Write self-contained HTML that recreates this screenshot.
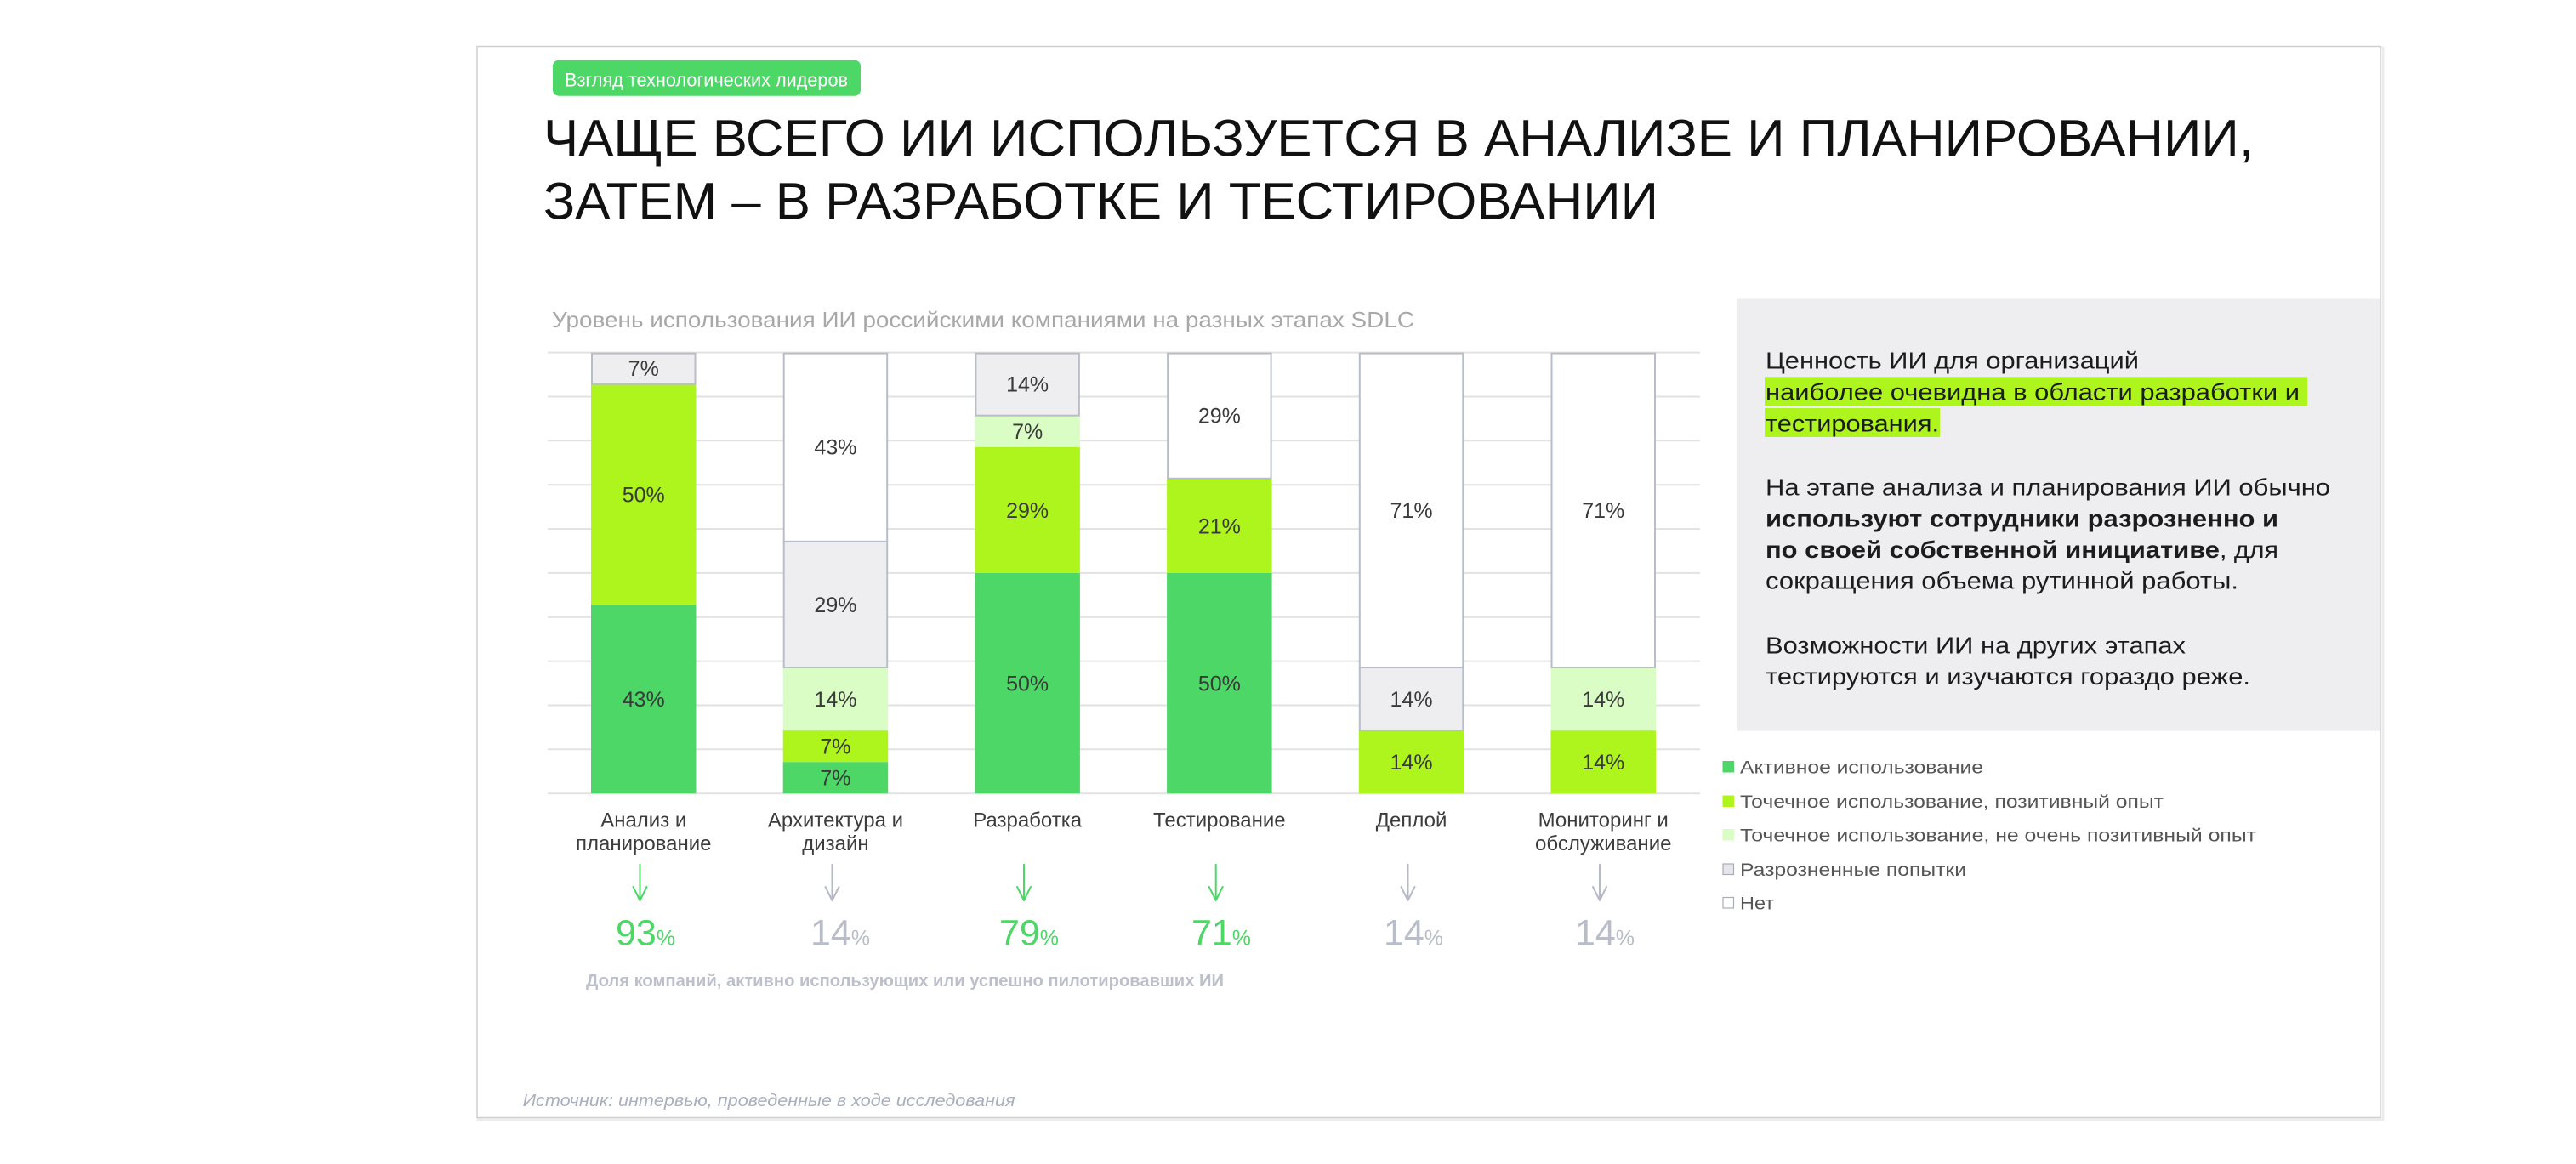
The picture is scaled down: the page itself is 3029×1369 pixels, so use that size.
<!DOCTYPE html>
<html lang="ru">
<head>
<meta charset="utf-8">
<style>
  html,body{margin:0;padding:0;background:#fff;}
  body{width:3029px;height:1369px;overflow:hidden;}
  svg{display:block;}
  text{font-family:"Liberation Sans","Noto Sans CJK JP",Arial,sans-serif;}
</style>
</head>
<body>
<svg width="3029" height="1369" viewBox="0 0 3029 1369" xmlns="http://www.w3.org/2000/svg">
  <rect x="0" y="0" width="3029" height="1369" fill="#ffffff"/>

  <!-- frame -->
  <rect x="562" y="56" width="2240" height="1261" fill="none" stroke="#ececec" stroke-width="3"/>
  <rect x="561" y="54.5" width="2238" height="1260" fill="#ffffff" stroke="#cfcfcf" stroke-width="1.5"/>

  <!-- tag -->
  <rect x="650" y="70.7" width="362" height="42" rx="7" ry="7" fill="#4cd767"/>
  <text x="664" y="101.7" font-size="22" fill="#ffffff" textLength="333" lengthAdjust="spacingAndGlyphs">Взгляд технологических лидеров</text>

  <!-- title -->
  <text x="639" y="183.5" font-size="61" fill="#111111" textLength="2011" lengthAdjust="spacingAndGlyphs">ЧАЩЕ ВСЕГО ИИ ИСПОЛЬЗУЕТСЯ В АНАЛИЗЕ И ПЛАНИРОВАНИИ,</text>
  <text x="639" y="257.3" font-size="61" fill="#111111" textLength="1311" lengthAdjust="spacingAndGlyphs">ЗАТЕМ – В РАЗРАБОТКЕ И ТЕСТИРОВАНИИ</text>

  <!-- chart subtitle -->
  <text x="649" y="385.2" font-size="26" fill="#a8a8a8" textLength="1014" lengthAdjust="spacingAndGlyphs">Уровень использования ИИ российскими компаниями на разных этапах SDLC</text>

  <!-- gridlines -->
  <g stroke="#e2e2e2" stroke-width="2">
    <line x1="644" y1="414.6" x2="1999" y2="414.6"/>
    <line x1="644" y1="466.5" x2="1999" y2="466.5"/>
    <line x1="644" y1="518.3" x2="1999" y2="518.3"/>
    <line x1="644" y1="570.2" x2="1999" y2="570.2"/>
    <line x1="644" y1="622.0" x2="1999" y2="622.0"/>
    <line x1="644" y1="673.9" x2="1999" y2="673.9"/>
    <line x1="644" y1="725.8" x2="1999" y2="725.8"/>
    <line x1="644" y1="777.6" x2="1999" y2="777.6"/>
    <line x1="644" y1="829.5" x2="1999" y2="829.5"/>
    <line x1="644" y1="881.3" x2="1999" y2="881.3"/>
    <line x1="644" y1="933.2" x2="1999" y2="933.2"/>
  </g>

  <!-- Bar 1 -->
  <rect x="695" y="710.94" width="123.5" height="222.26" fill="#4cd767"/>
  <rect x="695" y="451.64" width="123.5" height="259.3" fill="#adf51c"/>
  <rect x="696" y="415.6" width="121.5" height="36.04" fill="#eeeef0" stroke="#b9bdc9" stroke-width="2"/>

  <!-- Bar 2 -->
  <rect x="920.7" y="896.16" width="123.5" height="37.04" fill="#4cd767"/>
  <rect x="920.7" y="859.11" width="123.5" height="37.05" fill="#adf51c"/>
  <rect x="920.7" y="785.03" width="123.5" height="74.08" fill="#dafdc6"/>
  <rect x="921.7" y="636.86" width="121.5" height="148.17" fill="#eeeef0" stroke="#b9bdc9" stroke-width="2"/>
  <rect x="921.7" y="415.6" width="121.5" height="221.26" fill="#ffffff" stroke="#b9bdc9" stroke-width="2"/>

  <!-- Bar 3 -->
  <rect x="1146.4" y="673.9" width="123.5" height="259.3" fill="#4cd767"/>
  <rect x="1146.4" y="525.73" width="123.5" height="148.17" fill="#adf51c"/>
  <rect x="1146.4" y="488.69" width="123.5" height="37.04" fill="#dafdc6"/>
  <rect x="1147.4" y="415.6" width="121.5" height="73.09" fill="#eeeef0" stroke="#b9bdc9" stroke-width="2"/>

  <!-- Bar 4 -->
  <rect x="1372.1" y="673.9" width="123.5" height="259.3" fill="#4cd767"/>
  <rect x="1372.1" y="562.77" width="123.5" height="111.13" fill="#adf51c"/>
  <rect x="1373.1" y="415.6" width="121.5" height="147.17" fill="#ffffff" stroke="#b9bdc9" stroke-width="2"/>

  <!-- Bar 5 -->
  <rect x="1597.8" y="859.11" width="123.5" height="74.09" fill="#adf51c"/>
  <rect x="1598.8" y="785.03" width="121.5" height="74.08" fill="#eeeef0" stroke="#b9bdc9" stroke-width="2"/>
  <rect x="1598.8" y="415.6" width="121.5" height="369.43" fill="#ffffff" stroke="#b9bdc9" stroke-width="2"/>

  <!-- Bar 6 -->
  <rect x="1823.5" y="859.11" width="123.5" height="74.09" fill="#adf51c"/>
  <rect x="1823.5" y="785.03" width="123.5" height="74.08" fill="#dafdc6"/>
  <rect x="1824.5" y="415.6" width="121.5" height="369.43" fill="#ffffff" stroke="#b9bdc9" stroke-width="2"/>

  <!-- bar labels -->
  <g font-size="25" fill="#3a3a3a" text-anchor="middle">
    <text x="756.75" y="831">43%</text>
    <text x="756.75" y="590.3">50%</text>
    <text x="756.75" y="442">7%</text>

    <text x="982.45" y="923.7">7%</text>
    <text x="982.45" y="886.6">7%</text>
    <text x="982.45" y="831">14%</text>
    <text x="982.45" y="720">29%</text>
    <text x="982.45" y="534.7">43%</text>

    <text x="1208.15" y="812.5">50%</text>
    <text x="1208.15" y="608.8">29%</text>
    <text x="1208.15" y="516.2">7%</text>
    <text x="1208.15" y="460.6">14%</text>

    <text x="1433.85" y="812.5">50%</text>
    <text x="1433.85" y="627.3">21%</text>
    <text x="1433.85" y="497.7">29%</text>

    <text x="1659.55" y="905.2">14%</text>
    <text x="1659.55" y="831">14%</text>
    <text x="1659.55" y="608.8">71%</text>

    <text x="1885.25" y="905.2">14%</text>
    <text x="1885.25" y="831">14%</text>
    <text x="1885.25" y="608.8">71%</text>
  </g>

  <!-- category labels -->
  <g font-size="24" fill="#3c3c3c" text-anchor="middle">
    <text x="756.75" y="972.7">Анализ и</text>
    <text x="756.75" y="1000">планирование</text>
    <text x="982.45" y="972.7">Архитектура и</text>
    <text x="982.45" y="1000">дизайн</text>
    <text x="1208.15" y="972.7">Разработка</text>
    <text x="1433.85" y="972.7">Тестирование</text>
    <text x="1659.55" y="972.7">Деплой</text>
    <text x="1885.25" y="972.7">Мониторинг и</text>
    <text x="1885.25" y="1000">обслуживание</text>
  </g>

  <!-- arrows -->
  <g fill="none" stroke-width="2" stroke-linecap="round" stroke-linejoin="round">
    <g stroke="#4cd767">
      <path d="M752.5 1016.7 V1059 M744.5 1043 L752.5 1059 L760.5 1043"/>
      <path d="M1204 1016.7 V1059 M1196 1043 L1204 1059 L1212 1043"/>
      <path d="M1429.7 1016.7 V1059 M1421.7 1043 L1429.7 1059 L1437.7 1043"/>
    </g>
    <g stroke="#b5bac6">
      <path d="M978.5 1016.7 V1059 M970.5 1043 L978.5 1059 L986.5 1043"/>
      <path d="M1655.5 1016.7 V1059 M1647.5 1043 L1655.5 1059 L1663.5 1043"/>
      <path d="M1881 1016.7 V1059 M1873 1043 L1881 1059 L1889 1043"/>
    </g>
  </g>

  <!-- big numbers -->
  <g text-anchor="middle">
    <text x="759" y="1111.7" fill="#4cd767" font-size="43">93<tspan font-size="25">%</tspan></text>
    <text x="988" y="1111.7" fill="#b8bdc8" font-size="43">14<tspan font-size="25">%</tspan></text>
    <text x="1210" y="1111.7" fill="#4cd767" font-size="43">79<tspan font-size="25">%</tspan></text>
    <text x="1436" y="1111.7" fill="#4cd767" font-size="43">71<tspan font-size="25">%</tspan></text>
    <text x="1662" y="1111.7" fill="#b8bdc8" font-size="43">14<tspan font-size="25">%</tspan></text>
    <text x="1887" y="1111.7" fill="#b8bdc8" font-size="43">14<tspan font-size="25">%</tspan></text>
  </g>

  <!-- footnote under chart -->
  <text x="689" y="1160" font-size="20" font-weight="bold" fill="#bcc0cb" textLength="750" lengthAdjust="spacingAndGlyphs">Доля компаний, активно использующих или успешно пилотировавших ИИ</text>

  <!-- right grey box -->
  <rect x="2043" y="351.5" width="756" height="508.2" fill="#eeeef0"/>
  <rect x="2075" y="443.3" width="638" height="34" fill="#adf51c"/>
  <rect x="2075" y="480" width="206" height="34" fill="#adf51c"/>
  <g font-size="28" fill="#1c1c1c">
    <text x="2076" y="433.3" textLength="439" lengthAdjust="spacingAndGlyphs">Ценность ИИ для организаций</text>
    <text x="2076" y="470.7" textLength="628" lengthAdjust="spacingAndGlyphs">наиболее очевидна в области разработки и</text>
    <text x="2076" y="507.3" textLength="204" lengthAdjust="spacingAndGlyphs">тестирования.</text>

    <text x="2076" y="582.7" textLength="664" lengthAdjust="spacingAndGlyphs">На этапе анализа и планирования ИИ обычно</text>
    <text x="2076" y="619.3" font-weight="bold" textLength="603" lengthAdjust="spacingAndGlyphs">используют сотрудники разрозненно и</text>
    <text x="2076" y="656" font-weight="bold" textLength="534" lengthAdjust="spacingAndGlyphs">по своей собственной инициативе</text>
    <text x="2610" y="656" textLength="69" lengthAdjust="spacingAndGlyphs">, для</text>
    <text x="2076" y="692.7" textLength="556" lengthAdjust="spacingAndGlyphs">сокращения объема рутинной работы.</text>

    <text x="2076" y="768.3" textLength="494" lengthAdjust="spacingAndGlyphs">Возможности ИИ на других этапах</text>
    <text x="2076" y="805" textLength="570" lengthAdjust="spacingAndGlyphs">тестируются и изучаются гораздо реже.</text>
  </g>

  <!-- legend -->
  <rect x="2025.5" y="895" width="13.5" height="13.5" fill="#4cd767"/>
  <rect x="2025.5" y="935.5" width="13.5" height="13.5" fill="#adf51c"/>
  <rect x="2025.5" y="975" width="13.5" height="13.5" fill="#dafdc6"/>
  <rect x="2026" y="1016" width="12.5" height="12.5" fill="#e6e7ea" stroke="#a9adb8" stroke-width="1.2"/>
  <rect x="2026" y="1055.5" width="12.5" height="12.5" fill="#ffffff" stroke="#a9adb8" stroke-width="1.2"/>
  <g font-size="21" fill="#555555">
    <text x="2046" y="909.5" textLength="286" lengthAdjust="spacingAndGlyphs">Активное использование</text>
    <text x="2046" y="950" textLength="498" lengthAdjust="spacingAndGlyphs">Точечное использование, позитивный опыт</text>
    <text x="2046" y="989.5" textLength="607" lengthAdjust="spacingAndGlyphs">Точечное использование, не очень позитивный опыт</text>
    <text x="2046" y="1030" textLength="266" lengthAdjust="spacingAndGlyphs">Разрозненные попытки</text>
    <text x="2046" y="1069.5" textLength="40" lengthAdjust="spacingAndGlyphs">Нет</text>
  </g>

  <!-- source -->
  <text x="614.6" y="1301" font-size="20" font-style="italic" fill="#a9afbd" textLength="579" lengthAdjust="spacingAndGlyphs">Источник: интервью, проведенные в ходе исследования</text>
</svg>
</body>
</html>
